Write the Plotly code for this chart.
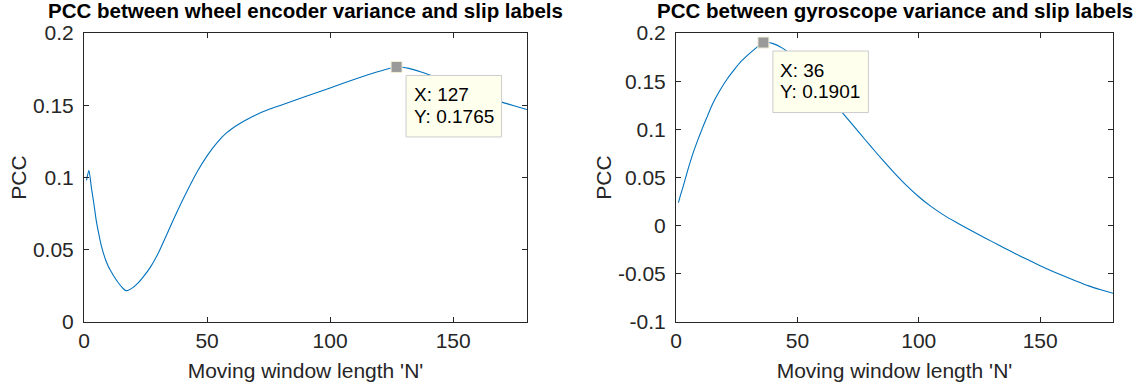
import plotly.graph_objects as go

# ---------------- data ----------------
wheel_N = [1, 2, 3, 4, 5, 6, 7, 8, 9, 10, 11, 12, 14, 16, 17, 18, 20, 22, 24, 27, 30, 34, 38, 42, 46,
           50, 54, 58, 62, 66, 70, 75, 80, 90, 100, 110, 120, 127, 132, 137, 142, 147, 152, 158,
           164, 170, 175, 180]
wheel_pcc = [0.098, 0.105, 0.093, 0.082, 0.070, 0.061, 0.053, 0.047, 0.042, 0.038, 0.035, 0.032,
             0.027, 0.023, 0.0217, 0.022, 0.024, 0.027, 0.031, 0.038, 0.047, 0.062, 0.077, 0.091,
             0.104, 0.115, 0.124, 0.131, 0.136, 0.140, 0.1435, 0.147, 0.150, 0.156, 0.162, 0.168,
             0.1735, 0.1765, 0.1755, 0.173, 0.170, 0.166, 0.162, 0.158, 0.155, 0.152, 0.1495, 0.147]

gyro_N = [1, 2, 3, 5, 7, 9, 11, 13, 15, 18, 21, 24, 27, 30, 33, 36, 40, 44, 48, 52, 56, 60, 64, 68,
          72, 76, 80, 85, 90, 95, 100, 105, 110, 115, 120, 125, 130, 135, 140, 145, 150, 155, 160,
          165, 170, 175, 180]
gyro_pcc = [0.024, 0.033, 0.041, 0.059, 0.075, 0.089, 0.102, 0.114, 0.126, 0.140, 0.152, 0.162,
            0.171, 0.178, 0.1845, 0.1901, 0.189, 0.184, 0.176, 0.166, 0.155, 0.143, 0.131, 0.119,
            0.107, 0.095, 0.083, 0.0685, 0.0545, 0.0415, 0.030, 0.020, 0.0115, 0.004, -0.0030,
            -0.0097, -0.0163, -0.0229, -0.0293, -0.0355, -0.0415, -0.0472, -0.0526, -0.0577,
            -0.0625, -0.0665, -0.0702]

tips = [(127, 0.1765, "x", "y"), (36, 0.1901, "x2", "y2")]

titles = ["PCC between wheel encoder variance and slip labels",
          "PCC between gyroscope variance and slip labels"]
x_title = "Moving window length 'N'"
y_title = "PCC"

x_ticks = [0, 50, 100, 150]
y1_ticks = [0, 0.05, 0.1, 0.15, 0.2]
y1_labels = ["0", "0.05", "0.1", "0.15", "0.2"]
y2_ticks = [-0.1, -0.05, 0, 0.05, 0.1, 0.15, 0.2]
y2_labels = ["-0.1", "-0.05", "0", "0.05", "0.1", "0.15", "0.2"]

# ---------------- figure ----------------
W, H = 1148, 387
FONT = "Liberation Sans, Arial, sans-serif"
AXC = "#262626"
LINE = "#0072BD"
FS = 21

fig = go.Figure()
fig.add_trace(go.Scatter(x=wheel_N, y=wheel_pcc, mode="lines", line=dict(color=LINE, width=1.1, shape="spline", smoothing=0.6),
                         xaxis="x", yaxis="y", showlegend=False))
fig.add_trace(go.Scatter(x=gyro_N, y=gyro_pcc, mode="lines", line=dict(color=LINE, width=1.1, shape="spline", smoothing=0.6),
                         xaxis="x2", yaxis="y2", showlegend=False))

shapes = []
annotations = []
for tx, ty, xr, yr in tips:
    fig.add_trace(go.Scatter(x=[tx], y=[ty], mode="markers", xaxis=xr, yaxis=yr, showlegend=False,
                             marker=dict(symbol="square", size=11, color="#9a9a9a",
                                         line=dict(color="#f3efd6", width=1))))
    shapes.append(dict(type="rect", xref=xr, yref=yr, xsizemode="pixel", ysizemode="pixel",
                       xanchor=tx, yanchor=ty, x0=9.5, x1=105, y0=-8.5, y1=-70,
                       fillcolor="#FFFFEE", line=dict(color="#CCCCCC", width=1), layer="above"))
    for i, txt in enumerate([f"X: {tx}", f"Y: {ty:.4f}"]):
        annotations.append(dict(x=tx, y=ty, xref=xr, yref=yr, text=txt, showarrow=False,
                                xanchor="left", yanchor="middle", xshift=15, yshift=-28 - 21.3 * i,
                                font=dict(family=FONT, size=19, color="#000000")))

dom1 = [84 / W, 527 / W]
dom2 = [676 / W, 1113 / W]
ydom = [1 - 322 / H, 1 - 33 / H]

common_x = dict(range=[0, 180], tickvals=x_ticks, ticks="inside", ticklen=5, tickcolor=AXC,
                showline=True, linecolor=AXC, linewidth=1, mirror="ticks", showgrid=False, zeroline=False,
                automargin=False,
                tickfont=dict(family=FONT, size=FS, color=AXC), ticklabelstandoff=0,
                title=dict(text=x_title, font=dict(family=FONT, size=FS, color=AXC), standoff=12))
common_y = dict(ticks="inside", ticklen=5, tickcolor=AXC, showline=True, linecolor=AXC, linewidth=1,
                mirror="ticks", showgrid=False, zeroline=False, automargin=False,
                tickfont=dict(family=FONT, size=FS, color=AXC), ticklabelstandoff=5,
                title=dict(text=y_title, font=dict(family=FONT, size=FS, color=AXC), standoff=0))

fig.update_layout(
    width=W, height=H, margin=dict(l=0, r=0, t=0, b=0, autoexpand=False),
    paper_bgcolor="white", plot_bgcolor="white",
    xaxis=dict(domain=dom1, anchor="y", **common_x),
    yaxis=dict(domain=ydom, anchor="x", range=[0, 0.2], tickvals=y1_ticks, ticktext=y1_labels, **common_y),
    xaxis2=dict(domain=dom2, anchor="y2", **common_x),
    yaxis2=dict(domain=ydom, anchor="x2", range=[-0.1, 0.2], tickvals=y2_ticks, ticktext=y2_labels, **common_y),
    shapes=shapes,
)

for dom, t in zip([dom1, dom2], titles):
    annotations.append(dict(x=(dom[0] + dom[1]) / 2, y=1 - 10 / H, xref="paper", yref="paper", text=f"<b>{t}</b>",
                            showarrow=False, xanchor="center", yanchor="middle",
                            font=dict(family=FONT, size=20.5, color="#000000")))
fig.update_layout(annotations=annotations)

fig.write_html("out.html")
